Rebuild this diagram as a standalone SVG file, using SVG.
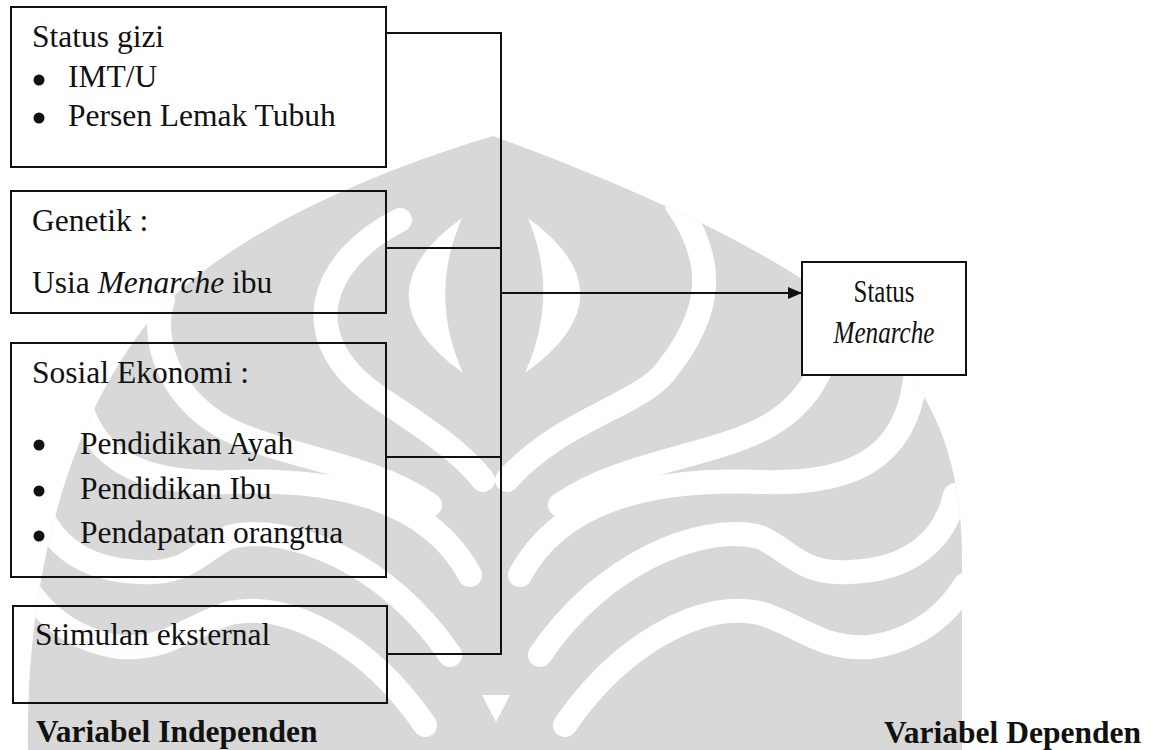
<svg xmlns="http://www.w3.org/2000/svg" width="1158" height="750" viewBox="0 0 1158 750">
<defs>
<style>
.box{fill:none;stroke:#111;stroke-width:2}
.t{font-family:"Liberation Serif","Times New Roman",serif;font-size:31.5px;fill:#111}
.b{font-weight:bold}
.i{font-style:italic}
.con{fill:none;stroke:#111;stroke-width:2}
.wb{fill:none;stroke:#fff;stroke-width:24;stroke-linecap:round}
</style>
<marker id="arr" markerWidth="14" markerHeight="12" refX="14" refY="6" orient="auto" markerUnits="userSpaceOnUse">
<path d="M0,0 L14,6 L0,12 Z" fill="#111"/>
</marker>
<clipPath id="logo">
<path d="M28,750 C25,600 60,430 150,320 C230,230 380,170 493,136 C640,190 800,260 880,340 C940,400 962,470 962,560 L962,750 Z"/>
</clipPath>
</defs>
<rect width="1158" height="750" fill="#fff"/>
<g id="watermark" clip-path="url(#logo)">
<rect x="0" y="100" width="1000" height="650" fill="#d8d8d8"/>
<path d="M462,218 Q355,295 463,373 Q428,295 462,218 Z" fill="#fff"/>
<path d="M528,218 Q634,295 525,373 Q560,295 528,218 Z" fill="#fff"/>
<path class="wb" d="M507,480 C560,420 640,405 665,372 C715,310 715,260 677,205"/>
<path class="wb" d="M400,220 C320,260 290,340 383,400 C420,425 460,450 483,480"/>
<path class="wb" d="M560,505 C620,462 720,455 770,425 C820,395 840,340 827,300"/>
<path class="wb" d="M520,575 C560,500 650,478 760,482 C850,485 905,460 915,380 C918,340 905,300 890,270"/>
<path class="wb" d="M540,655 C600,565 700,522 760,537 C790,550 800,575 850,572 C910,570 945,540 955,495"/>
<path class="wb" d="M565,725 C620,645 700,600 760,613 C800,625 820,650 870,647 C920,640 950,610 965,585"/>
<path class="wb" d="M430,505 C370,462 270,455 220,425 C170,395 150,340 163,300"/>
<path class="wb" d="M470,575 C430,500 340,478 230,482 C140,485 85,460 75,380"/>
<path class="wb" d="M450,655 C390,565 290,522 230,537 C200,550 190,575 140,572 C80,570 45,540 35,495"/>
<path class="wb" d="M425,725 C370,645 290,600 230,613 C190,625 170,650 120,647 C70,640 40,610 25,585"/>
<path d="M482,695 L510,695 L496,722 Z" fill="#fff"/>
</g>
<g id="connectors">
<polyline class="con" points="386,33 501,33 501,654 387,654"/>
<line class="con" x1="386" y1="248" x2="501" y2="248"/>
<line class="con" x1="386" y1="457" x2="501" y2="457"/>
<line class="con" x1="501" y1="293" x2="802" y2="293" marker-end="url(#arr)"/>
</g>
<g id="status-gizi">
<rect class="box" x="11" y="7" width="375" height="160"/>
<text class="t" x="32" y="47">Status gizi</text>
<circle cx="39" cy="80" r="5.5" fill="#111"/>
<text class="t" x="68" y="87">IMT/U</text>
<circle cx="39" cy="118" r="5.5" fill="#111"/>
<text class="t" x="68" y="126">Persen Lemak Tubuh</text>
</g>
<g id="genetik">
<rect class="box" x="11" y="191" width="375" height="122"/>
<text class="t" x="32" y="231">Genetik :</text>
<text class="t" x="32" y="293">Usia <tspan class="i">Menarche</tspan> ibu</text>
</g>
<g id="sosial-ekonomi">
<rect class="box" x="11" y="343" width="375" height="234"/>
<text class="t" x="32" y="383">Sosial Ekonomi :</text>
<circle cx="39" cy="445" r="5.5" fill="#111"/>
<text class="t" x="80" y="454">Pendidikan Ayah</text>
<circle cx="39" cy="491" r="5.5" fill="#111"/>
<text class="t" x="80" y="499">Pendidikan Ibu</text>
<circle cx="39" cy="536" r="5.5" fill="#111"/>
<text class="t" x="80" y="543">Pendapatan orangtua</text>
</g>
<g id="stimulan">
<rect class="box" x="13" y="606" width="374" height="97"/>
<text class="t" x="35" y="645">Stimulan eksternal</text>
</g>
<g id="status-menarche">
<rect x="802" y="262" width="164" height="113" fill="#fff" stroke="#111" stroke-width="2"/>
<text class="t" x="884" y="302" text-anchor="middle" font-size="29" textLength="61" lengthAdjust="spacingAndGlyphs">Status</text>
<text class="t i" x="884" y="343" text-anchor="middle" font-size="29" textLength="101" lengthAdjust="spacingAndGlyphs">Menarche</text>
</g>
<g id="labels">
<text class="t b" x="36" y="742">Variabel Independen</text>
<text class="t b" x="884" y="743">Variabel Dependen</text>
</g>
</svg>
